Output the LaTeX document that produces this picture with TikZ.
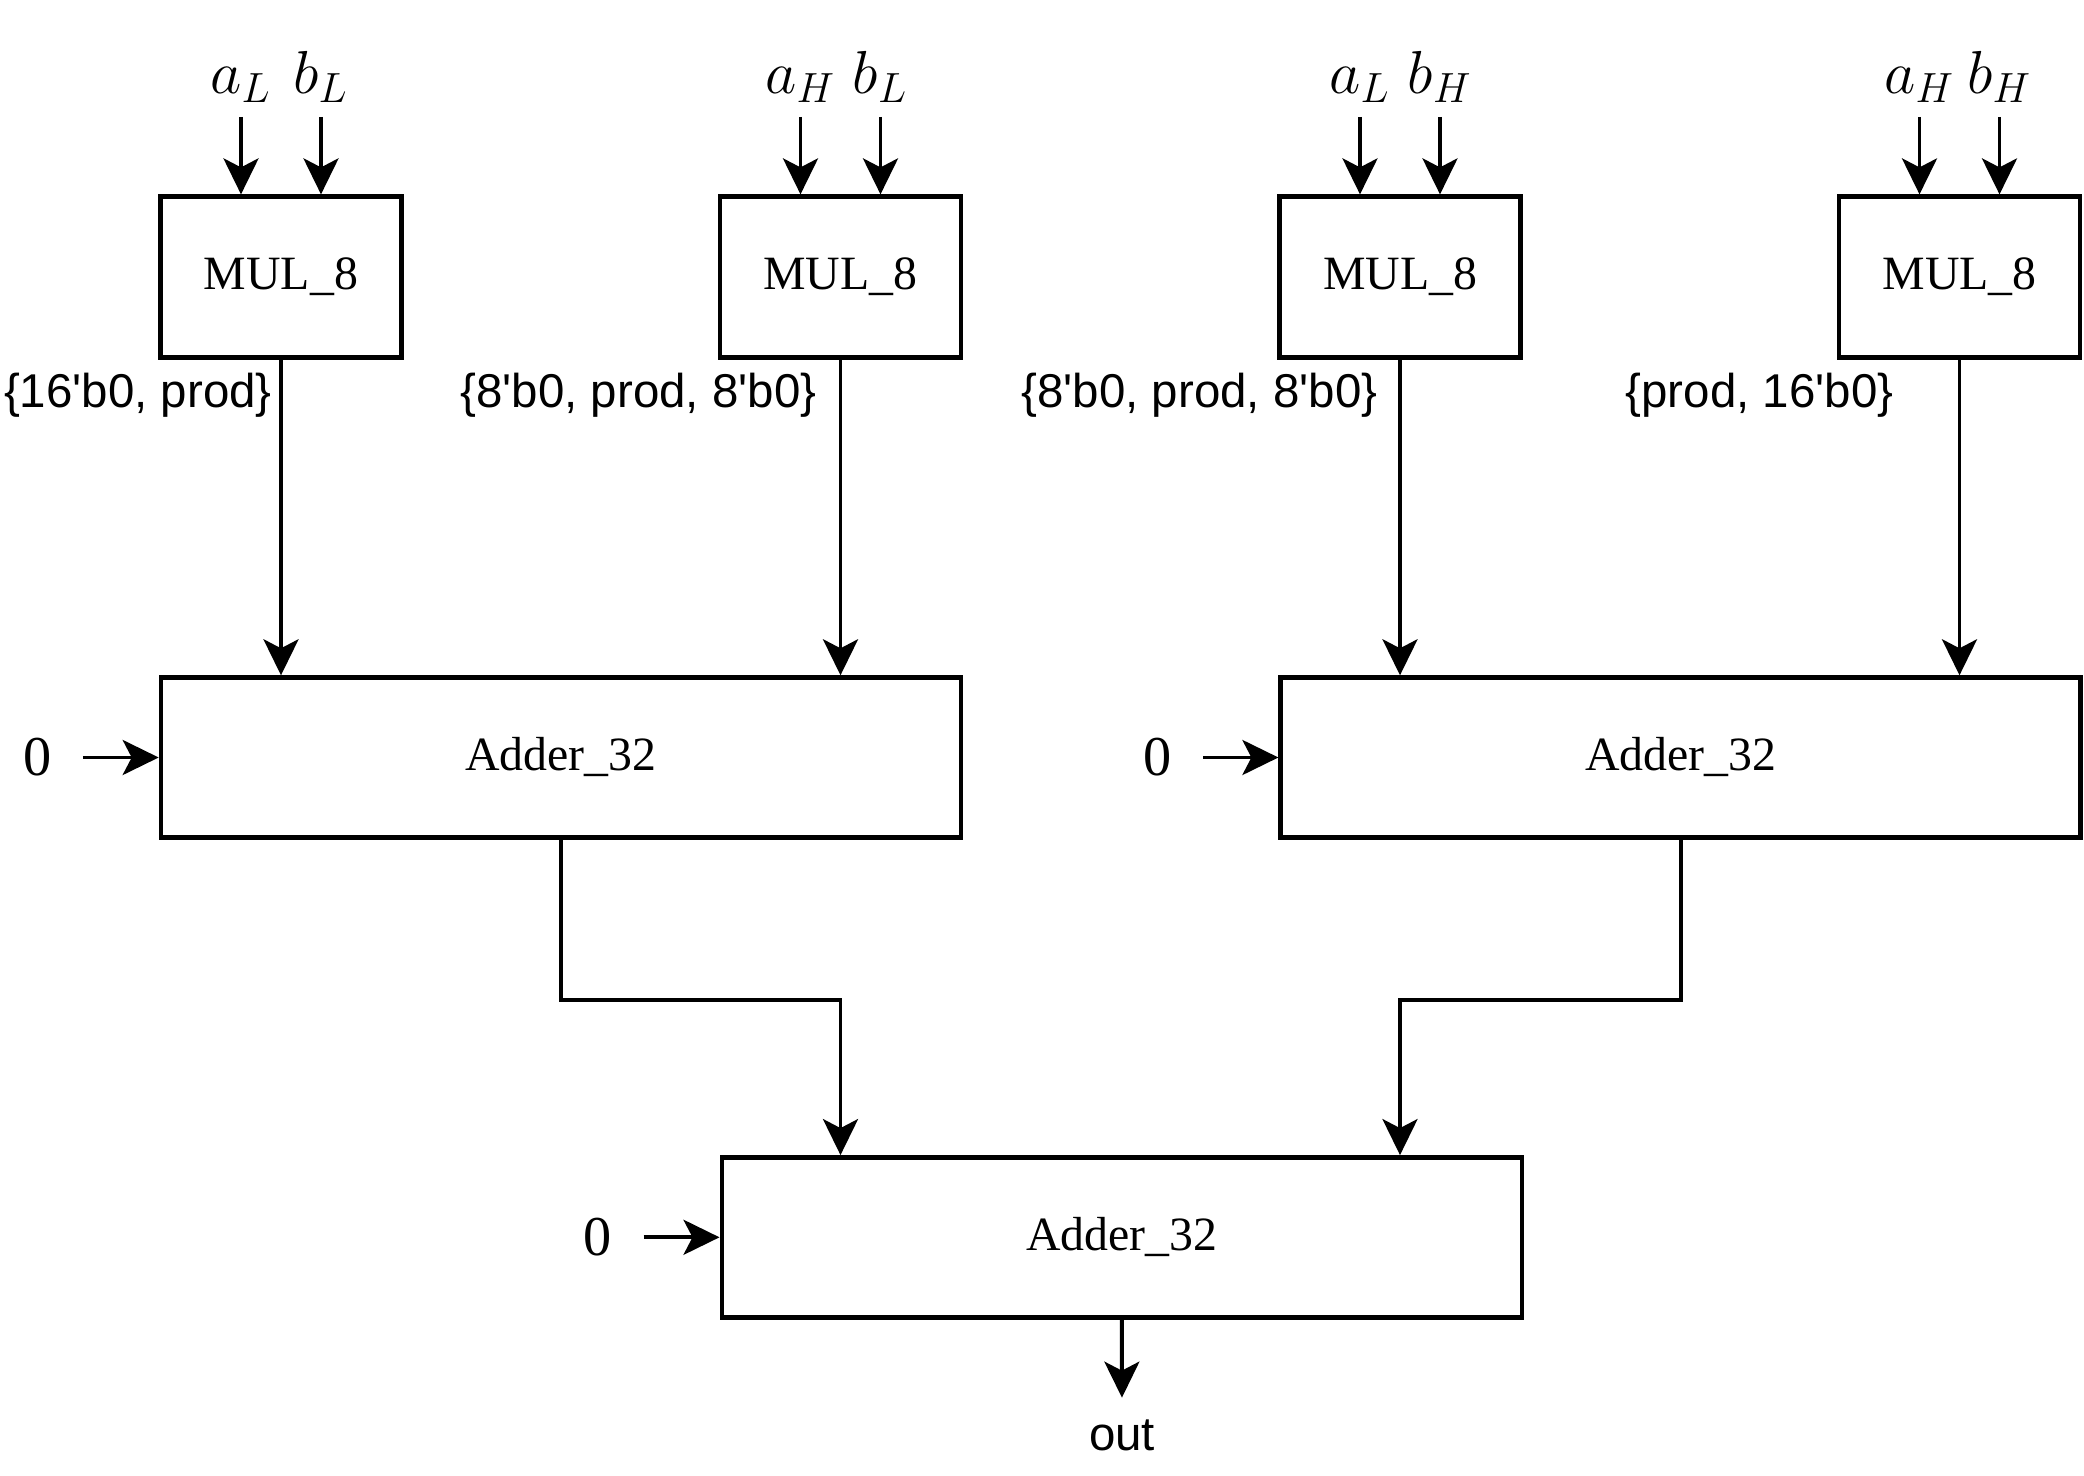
\documentclass[tikz,border=0pt]{standalone}
\usepackage{fontspec}
\setmainfont{Liberation Serif}
\setsansfont{Liberation Sans}
\usepackage{tikz}
\usetikzlibrary{arrows.meta, positioning, calc}
\tikzset{
  mul/.style={rectangle, draw=black, line width=1.25pt, fill=white,
              minimum width=2.41cm, minimum height=1.61cm, font=\fontsize{13.6}{16}\selectfont},
  adder/.style={mul, minimum width=8.0cm, minimum height=1.6cm},
  arr/.style={-{Stealth[length=3.6mm, width=3.5mm, inset=0.9mm]}, line width=1.1pt},
  inp/.style={font=\fontsize{17}{20}\selectfont, inner sep=4pt},
  sig/.style={font=\sffamily\fontsize{13.5}{16}\selectfont, inner sep=0pt},
  zero/.style={font=\fontsize{16}{19}\selectfont, inner xsep=8.8pt},
}

\begin{document}
\begin{tikzpicture}
\useasboundingbox (0,0) rectangle (20.84,-14.76);
% Mnozarki i ich wejscia
\foreach \i/\x/\p/\q in {1/2.81/L/L, 2/8.405/H/L, 3/14.0/L/H, 4/19.595/H/H} {
  \node[mul] (m\i) at (\x,-2.771) {MUL\_8};
  \node[inp, anchor=south] (ia\i) at (\x-0.4,-1.17) {$a_{\p}$};
  \node[inp, anchor=south] (ib\i) at (\x+0.4,-1.17) {$b_{\q}$};
  \draw[arr] (ia\i.south) -- (ia\i.south |- m\i.north);
  \draw[arr] (ib\i.south) -- (ib\i.south |- m\i.north);
}

% Sumatory
\node[adder] (a1) at (5.609,-7.575) {Adder\_32};
\node[adder] (a2) at (16.806,-7.575) {Adder\_32};
\node[adder] (a3) at (11.217,-12.373) {Adder\_32};

% Iloczyny z przesunieciem
\draw[arr] (m1) -- (m1 |- a1.north);
\draw[arr] (m2) -- (m2 |- a1.north);
\draw[arr] (m3) -- (m3 |- a2.north);
\draw[arr] (m4) -- (m4 |- a2.north);
\node[sig, anchor=east] (s1) at (2.724,-3.95) {\{16\textquotesingle b0, prod\}};
\node[sig, anchor=east] (s2) at (8.17,-3.95) {\{8\textquotesingle b0, prod, 8\textquotesingle b0\}};
\node[sig, anchor=east] (s3) at (13.78,-3.95) {\{8\textquotesingle b0, prod, 8\textquotesingle b0\}};
\node[sig, anchor=east] (s4) at (18.94,-3.95) {\{prod, 16\textquotesingle b0\}};

% Wejscia zerowe
\node[zero] (z1) at (0.372,-7.575) {0};
\node[zero] (z2) at (11.576,-7.575) {0};
\node[zero] (z3) at (5.98,-12.373) {0};
\draw[arr] (z1) -- (a1);
\draw[arr] (z2) -- (a2);
\draw[arr] (z3) -- (a3);

% Sumy czesciowe do ostatniego sumatora
\draw[arr] (a1.south) -- ++(0,-1.6) -| (m2 |- a3.north);
\draw[arr] (a2.south) -- ++(0,-1.6) -| (m3 |- a3.north);

% Wyjscie
\node[sig, inner sep=6pt] (out) at (11.22,-14.35) {out};
\draw[arr] (a3) -- (out);

\end{tikzpicture}
\end{document}
